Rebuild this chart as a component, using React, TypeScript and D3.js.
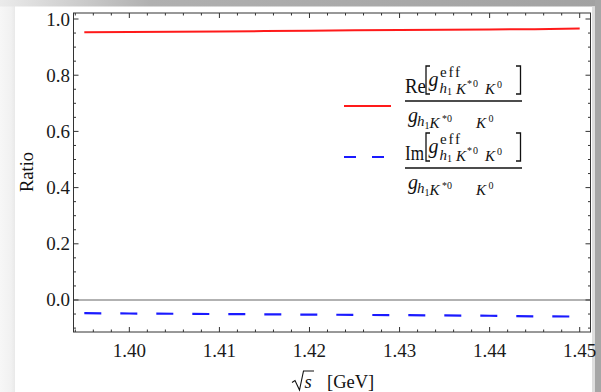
import React from "react";
import * as d3 from "d3";

// sqrt(s) sample points [GeV]
const sqrtS = [1.395, 1.4, 1.405, 1.41, 1.415, 1.42, 1.425, 1.43, 1.435, 1.44, 1.445, 1.45];
// Re[g_eff] / g ratio
const reRatio = [0.953, 0.954, 0.955, 0.956, 0.957, 0.958, 0.96, 0.961, 0.962, 0.963, 0.964, 0.966];
// Im[g_eff] / g ratio
const imRatio = [-0.047, -0.048, -0.049, -0.05, -0.051, -0.052, -0.053, -0.054, -0.055, -0.056, -0.058, -0.059];

const xTickValues = [1.4, 1.41, 1.42, 1.43, 1.44, 1.45];
const yTickValues = [0.0, 0.2, 0.4, 0.6, 0.8, 1.0];

const W = 601;
const H = 392;
const plot = { left: 73.5, right: 590.5, top: 13, bottom: 332 };
const serif = "'Liberation Serif', 'Times New Roman', serif";
const frameColor = "#333";

const x = d3.scaleLinear().domain([1.3938, 1.4512]).range([plot.left, plot.right]);
const y = d3.scaleLinear().domain([-0.1139, 1.0214]).range([plot.bottom, plot.top]);

const line = d3
  .line<[number, number]>()
  .x((d) => x(d[0]))
  .y((d) => y(d[1]));

const rePts = sqrtS.map((s, i) => [s, reRatio[i]] as [number, number]);
const imPts = sqrtS.map((s, i) => [s, imRatio[i]] as [number, number]);

const xMinor = d3.range(1.394, 1.4511, 0.002).filter((v) => xTickValues.every((t) => Math.abs(t - v) > 1e-6));
const yMinor = d3.range(-0.1, 1.001, 0.05).filter((v) => yTickValues.every((t) => Math.abs(t - v) > 1e-6));

// Fraction label: part[g^eff_{h1 K*0 K0}] / g_{h1 K*0 K0}; origin = left end of the fraction bar
function Fraction({ part, tx, ty }: { part: string; tx: number; ty: number }) {
  const big = 20;
  const mid = 15;
  const small = 10;
  return (
    <g transform={`translate(${tx},${ty})`} fontFamily={serif} fill="#111">
      {/* numerator */}
      <text x={0} y={-8} fontSize={big} textLength={part === "Re" ? 21 : 19} lengthAdjust="spacingAndGlyphs">{part}</text>
      <path d="M25,-35 L21,-35 L21,-7 L25,-7" fill="none" stroke="#111" strokeWidth={1.3} />
      <text x={23.5} y={-15} fontSize={big} fontStyle="italic">g</text>
      <text x={35} y={-24.5} fontSize={mid} textLength={20} lengthAdjust="spacing">eff</text>
      <text x={34.5} y={-8.5} fontSize={mid} fontStyle="italic">h</text>
      <text x={42} y={-6.5} fontSize={small}>1</text>
      <text x={51} y={-7.5} fontSize={mid} fontStyle="italic">K</text>
      <text x={62} y={-14} fontSize={small} textLength={11} lengthAdjust="spacing">*0</text>
      <text x={80} y={-7} fontSize={mid} fontStyle="italic">K</text>
      <text x={92} y={-13} fontSize={small}>0</text>
      <path d="M111,-35 L115.5,-35 L115.5,-7 L111,-7" fill="none" stroke="#111" strokeWidth={1.3} />
      <line x1={0} x2={117} y1={0} y2={0} stroke="#111" strokeWidth={1.4} />
      {/* denominator */}
      <text x={3} y={21} fontSize={big} fontStyle="italic">g</text>
      <text x={12} y={25} fontSize={mid} fontStyle="italic">h</text>
      <text x={19.5} y={27.5} fontSize={small}>1</text>
      <text x={24.5} y={26.5} fontSize={mid} fontStyle="italic">K</text>
      <text x={37} y={20.5} fontSize={small} textLength={10} lengthAdjust="spacing">*0</text>
      <text x={71} y={27} fontSize={mid} fontStyle="italic">K</text>
      <text x={83.5} y={21} fontSize={small}>0</text>
    </g>
  );
}

export default function App() {
  return (
    <div style={{ position: "fixed", left: 0, top: 0 }}>
      <svg width={W} height={H} viewBox={`0 0 ${W} ${H}`} style={{ display: "block" }}>
        <defs>
          <linearGradient id="topBand" x1="0" x2="1" y1="0" y2="0">
            <stop offset="0" stopColor="#ebebeb" />
            <stop offset="0.25" stopColor="#b0b0b0" />
            <stop offset="1" stopColor="#a2a2a2" />
          </linearGradient>
          <linearGradient id="leftBand" x1="0" x2="1" y1="0" y2="0">
            <stop offset="0" stopColor="#f7f7f7" />
            <stop offset="0.75" stopColor="#f1f1f1" />
            <stop offset="1" stopColor="#e9e9e9" />
          </linearGradient>
        </defs>
        <rect x={0} y={0} width={W} height={H} fill="#fff" />
        {/* window edges */}
        <rect x={0} y={0} width={15} height={H} fill="url(#leftBand)" />
        <rect x={0} y={0} width={W} height={6.5} fill="url(#topBand)" />
        <rect x={592} y={6.5} width={3} height={H} fill="#dedede" />
        <rect x={595} y={0} width={6} height={H} fill="#a6a6a6" />

        {/* zero reference line */}
        <line x1={plot.left} x2={plot.right} y1={y(0)} y2={y(0)} stroke="#666" strokeWidth={1.1} />

        {/* data curves */}
        <path d={line(rePts) ?? ""} fill="none" stroke="#ff1a1a" strokeWidth={2} />
        <path d={line(imPts) ?? ""} fill="none" stroke="#1a1aff" strokeWidth={2.2} strokeDasharray="17 19" />

        {/* frame */}
        <rect
          x={plot.left}
          y={plot.top}
          width={plot.right - plot.left}
          height={plot.bottom - plot.top}
          fill="none"
          stroke={frameColor}
          strokeWidth={1}
        />

        {/* x ticks (bottom and top) */}
        {xTickValues.map((v) => (
          <g key={`xt${v}`} stroke={frameColor}>
            <line x1={x(v)} x2={x(v)} y1={plot.bottom} y2={plot.bottom - 5} />
            <line x1={x(v)} x2={x(v)} y1={plot.top} y2={plot.top + 5} />
          </g>
        ))}
        {xMinor.map((v) => (
          <g key={`xm${v}`} stroke={frameColor}>
            <line x1={x(v)} x2={x(v)} y1={plot.bottom} y2={plot.bottom - 2.5} />
            <line x1={x(v)} x2={x(v)} y1={plot.top} y2={plot.top + 2.5} />
          </g>
        ))}
        {/* y ticks (left and right) */}
        {yTickValues.map((v) => (
          <g key={`yt${v}`} stroke={frameColor}>
            <line x1={plot.left} x2={plot.left + 5} y1={y(v)} y2={y(v)} />
            <line x1={plot.right} x2={plot.right - 5} y1={y(v)} y2={y(v)} />
          </g>
        ))}
        {yMinor.map((v) => (
          <g key={`ym${v}`} stroke={frameColor}>
            <line x1={plot.left} x2={plot.left + 2.5} y1={y(v)} y2={y(v)} />
            <line x1={plot.right} x2={plot.right - 2.5} y1={y(v)} y2={y(v)} />
          </g>
        ))}

        {/* tick labels */}
        {xTickValues.map((v) => (
          <text key={`xl${v}`} x={x(v)} y={356.5} fontFamily={serif} fontSize={19} fill="#1a1a1a" textAnchor="middle">
            {v.toFixed(2)}
          </text>
        ))}
        {yTickValues.map((v) => (
          <text key={`yl${v}`} x={70} y={y(v) + 6.5} fontFamily={serif} fontSize={19} fill="#1a1a1a" textAnchor="end">
            {v.toFixed(1)}
          </text>
        ))}

        {/* axis titles */}
        <text transform="translate(33,172) rotate(-90)" fontFamily={serif} fontSize={18.5} fill="#111" textAnchor="middle">
          Ratio
        </text>
        <path d="M292,382.5 L295,380.5 L299.5,390 L303.5,371 L314,371" fill="none" stroke="#111" strokeWidth={1.1} />
        <text x={304.5} y={388} fontFamily={serif} fontSize={18.5} fontStyle="italic" fill="#111">s</text>
        <text x={327} y={388} fontFamily={serif} fontSize={18.5} fill="#111">[GeV]</text>

        {/* legend */}
        <line x1={344} x2={391} y1={106} y2={106} stroke="#ff1a1a" strokeWidth={2} />
        <Fraction part="Re" tx={405} ty={101} />
        <line x1={344} x2={385} y1={157} y2={157} stroke="#1a1aff" strokeWidth={2.2} strokeDasharray="12 16" />
        <Fraction part="Im" tx={405} ty={168} />
      </svg>
    </div>
  );
}
